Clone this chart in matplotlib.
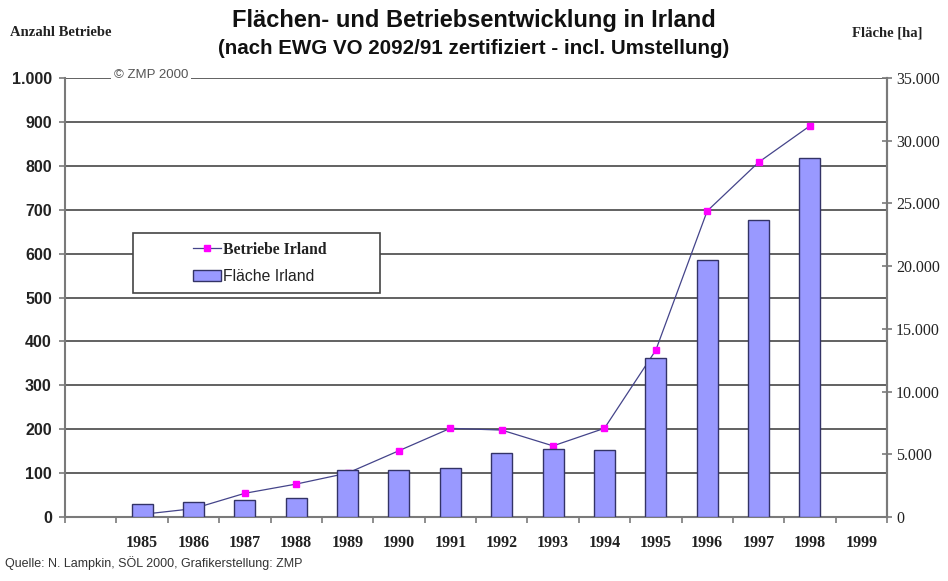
import matplotlib
matplotlib.use('Agg')
import matplotlib.pyplot as plt
import numpy as np
from matplotlib.patches import Rectangle
from matplotlib.lines import Line2D
from matplotlib.patches import Patch

# ---- data ----
years = ['1985', '1986', '1987', '1988', '1989', '1990', '1991', '1992',
         '1993', '1994', '1995', '1996', '1997', '1998', '1999']
betriebe = [6, 19, 54, 75, 100, 151, 202, 198, 162, 202, 380, 697, 808, 891]
flaeche = [1000, 1170, 1330, 1540, 3750, 3750, 3880, 5130, 5450, 5320,
           12680, 20470, 23660, 28630]
left_ticks = [0, 100, 200, 300, 400, 500, 600, 700, 800, 900, 1000]
left_labels = ['0', '100', '200', '300', '400', '500', '600', '700', '800', '900', '1.000']
right_ticks = [0, 5000, 10000, 15000, 20000, 25000, 30000, 35000]
right_labels = ['0', '5.000', '10.000', '15.000', '20.000', '25.000', '30.000', '35.000']

W, H = 948, 581
fig = plt.figure(figsize=(W / 100, H / 100), dpi=100)
fig.patch.set_facecolor('white')

L, R, T, B = 65, 887, 78, 517
ax = fig.add_axes([L / W, 1 - B / H, (R - L) / W, (B - T) / H])

SPINE = '#7a7a7a'
GRID = '#555555'
NAVY = '#44448a'
MAG = '#FF00FF'
BARC = '#9999FF'
BAREDGE = '#333366'
TXT = '#222222'

x = np.arange(1, len(years) + 1)
xb = x[:len(betriebe)]

ax.plot(xb, betriebe, color=NAVY, lw=0.9, marker='s', ms=4,
        mfc=MAG, mec=MAG, zorder=2)
ax.set_xlim(-0.5, 15.5)
ax.set_ylim(0, 1000)
ax.set_yticks(left_ticks)
ax.set_yticklabels(left_labels, fontfamily='Liberation Sans', fontweight='bold',
                   fontsize=11.5, color=TXT)
ax.yaxis.grid(True, color=GRID, lw=1.3)
ax.set_axisbelow(True)

# category boundary ticks (major) and centred year labels (minor)
ax.set_xticks(np.arange(-0.5, 15.6, 1.0))
ax.set_xticklabels([])
ax.set_xticks(x, minor=True)
ax.set_xticklabels(years, minor=True, fontfamily='Liberation Serif',
                   fontweight='bold', fontsize=11.5, color=TXT)
ax.tick_params(axis='x', which='major', length=4.5, width=1.2, color=SPINE, direction='out')
ax.tick_params(axis='x', which='minor', length=0, pad=13)
ax.tick_params(axis='y', length=4.5, width=1.2, color=SPINE, pad=5)

ax.spines['top'].set_visible(False)
for s in ['left', 'bottom', 'right']:
    ax.spines[s].set_color(SPINE)
    ax.spines[s].set_linewidth(1.5)

ax2 = ax.twinx()
ax2.bar(xb, flaeche, width=0.41, color=BARC, edgecolor=BAREDGE, lw=1.0, zorder=3)
ax2.set_ylim(0, 35000)
ax2.set_yticks(right_ticks)
ax2.set_yticklabels(right_labels, fontfamily='Liberation Serif', fontsize=11.5,
                    color=TXT)
ax2.tick_params(axis='y', direction='inout', length=7, width=1.2, color=SPINE, pad=3)
ax2.spines['top'].set_visible(False)
ax2.spines['left'].set_visible(False)
ax2.spines['bottom'].set_visible(False)
ax2.spines['right'].set_color(SPINE)
ax2.spines['right'].set_linewidth(1.5)

# copyright note on top gridline
ax2.text((151 - L) / (R - L), 1.006, '\u00a9 ZMP 2000', transform=ax2.transAxes,
         ha='center', va='center', fontsize=9.5, fontfamily='Liberation Sans',
         color='#555555',
         bbox=dict(facecolor='white', edgecolor='none', pad=2))

# legend box
bx0, bx1 = (133 - L) / (R - L), (380 - L) / (R - L)
by0, by1 = (B - 293) / (B - T), (B - 233) / (B - T)
ax2.add_patch(Rectangle((bx0, by0), bx1 - bx0, by1 - by0, transform=ax2.transAxes,
                        facecolor='white', edgecolor='#444444', lw=1.2, zorder=5))
handles = [Line2D([], [], color=NAVY, lw=0.9, marker='s', ms=4, mfc=MAG, mec=MAG),
           Patch(facecolor=BARC, edgecolor=BAREDGE, lw=1.0)]
leg = ax2.legend(handles, ['Betriebe Irland', 'Fl\u00e4che Irland'],
                 loc='center', bbox_to_anchor=((bx0 + bx1) / 2 + 0.004, (by0 + by1) / 2),
                 bbox_transform=ax2.transAxes, frameon=False, fontsize=11.3,
                 handlelength=1.75, handletextpad=0.15, labelspacing=0.75)
leg.set_zorder(6)
t0, t1 = leg.get_texts()
t0.set_fontfamily('Liberation Serif')
t0.set_fontweight('bold')
t1.set_fontfamily('Liberation Sans')
for t in (t0, t1):
    t.set_color(TXT)

# titles and axis captions
fig.text(0.5, 1 - 21 / H, 'Fl\u00e4chen- und Betriebsentwicklung in Irland',
         ha='center', va='center', fontsize=17, fontweight='bold',
         fontfamily='Liberation Sans', color='#111111')
fig.text(0.5, 1 - 49 / H, '(nach EWG VO 2092/91 zertifiziert - incl. Umstellung)',
         ha='center', va='center', fontsize=14.8, fontweight='bold',
         fontfamily='Liberation Sans', color='#111111')
fig.text(10 / W, 1 - 33 / H, 'Anzahl Betriebe', ha='left', va='center',
         fontsize=10.5, fontweight='bold', fontfamily='Liberation Serif', color=TXT)
fig.text(922 / W, 1 - 33 / H, 'Fl\u00e4che [ha]', ha='right', va='center',
         fontsize=10.5, fontweight='bold', fontfamily='Liberation Serif', color=TXT)
fig.text(5 / W, 1 - 563 / H, 'Quelle: N. Lampkin, S\u00d6L 2000, Grafikerstellung: ZMP',
         ha='left', va='center', fontsize=9, fontfamily='Liberation Sans',
         color='#333333')

fig.savefig('out.png', dpi=100, facecolor='white')
